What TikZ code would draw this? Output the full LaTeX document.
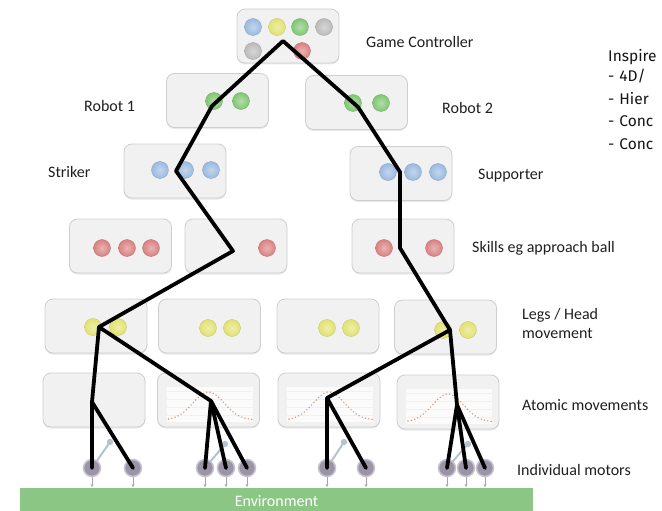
\documentclass[tikz,border=0pt]{standalone}
\usepackage{fontspec}
\setmainfont{Carlito}
\newfontfamily\notefont{Fira Sans}
\usetikzlibrary{arrows.meta,shadows}

\definecolor{boxfill}{HTML}{F1F1F1}
\definecolor{boxline}{HTML}{CECECE}
\definecolor{ballblue}{HTML}{9ABAE0}
\definecolor{ballyellow}{HTML}{E2E272}
\definecolor{ballgreen}{HTML}{80C673}
\definecolor{ballgrey}{HTML}{BBBBBB}
\definecolor{ballred}{HTML}{DA8080}
\definecolor{motor}{HTML}{9A94A6}
\definecolor{envgreen}{HTML}{8CC684}
\definecolor{curvedot}{HTML}{D49A7C}
\definecolor{ghost}{HTML}{B4C2D4}

\begin{document}
\begin{tikzpicture}[x=1pt,y=-1pt,
  level/.style={draw=boxline, line width=0.8pt, fill=boxfill, rounded corners=8pt,
    minimum width=102pt, minimum height=54pt, inner sep=0pt,
    drop shadow={shadow xshift=0pt, shadow yshift=-1.5pt, opacity=0.18}},
  ball/.style={circle, inner sep=0pt, minimum size=17pt, draw=#1!85!black, line width=0.3pt,
    inner color=#1!60!white, outer color=#1},
  motornode/.style={circle, inner sep=0pt, minimum size=17pt, fill=motor, draw=motor!55!white, line width=1.5pt},
  wire/.style={line width=3.8pt, black, line cap=round, line join=round},
  ghostline/.style={ghost, line width=2pt, line cap=round},
  outarrow/.style={gray!70, line width=0.6pt, -{Stealth[length=3pt,width=3pt]}},
  label/.style={font=\fontsize{16}{19}\selectfont, anchor=west, inner sep=0pt, text=black!88},
  note/.style={font=\notefont\fontsize{15.5}{18}\selectfont, anchor=west, inner sep=0pt, text=black!92},
  dotcurve/.style={curvedot, line width=1.6pt, dash pattern=on 0pt off 3.4pt, line cap=round}
]
\useasboundingbox (0,0) rectangle (662,511);
\clip (0,0) rectangle (662,511);

% ---- level boxes ----
\node[level] (gc) at (288,36) {};
\node[level] (r1) at (217.5,100.5) {};
\node[level] (r2) at (356.5,102.5) {};
\node[level] (st) at (175,171) {};
\node[level] (su) at (401,173.5) {};
\node[level] (ska) at (120.5,246) {};
\node[level] (skb) at (236,246) {};
\node[level] (skc) at (403,246) {};
\node[level] (lg1) at (96,326) {};
\node[level] (lg2) at (209.5,326) {};
\node[level] (lg3) at (328,326) {};
\node[level] (lg4) at (445.5,327) {};
\node[level] (at1) at (94,400) {};
\node[level] (at2) at (208.5,400) {};
\node[level] (at3) at (329,400) {};
\node[level] (at4) at (448,402) {};

% ---- motion profiles inside the atomic movement boxes ----
\foreach \b in {at2,at3,at4}{
  \begin{scope}[shift={(\b.center)}]
    \fill[white, opacity=0.75] (-42,-13) rectangle (44,22);
    \foreach \h in {-9,-1,7,15}
      \draw[gray!12, line width=0.6pt] (-42,\h) -- (44,\h);
    \draw[dotcurve] plot[domain=-40:44, samples=36] ({\x}, {20-28*exp(-(\x/22)*(\x/22))});
  \end{scope}
}

% ---- coloured state balls ----
\node[ball=ballblue]   (gc1) at (253,27) {};
\node[ball=ballyellow] (gc2) at (277,27) {};
\node[ball=ballgreen]  (gc3) at (300,27) {};
\node[ball=ballgrey]   (gc4) at (324,27) {};
\node[ball=ballgrey]   (gc5) at (253,51) {};
\node[ball=ballred]    (gc6) at (302,51) {};

\node[ball=ballgreen] (r1a) at (214,101) {};
\node[ball=ballgreen] (r1b) at (241,101) {};
\node[ball=ballgreen] (r2a) at (353,103) {};
\node[ball=ballgreen] (r2b) at (381,103) {};

\node[ball=ballblue] (st1) at (160,170) {};
\node[ball=ballblue] (st2) at (185,170) {};
\node[ball=ballblue] (st3) at (211,170) {};
\node[ball=ballblue] (su1) at (388,172) {};
\node[ball=ballblue] (su2) at (413,172) {};
\node[ball=ballblue] (su3) at (438,172) {};

\node[ball=ballred] (ska1) at (102,248) {};
\node[ball=ballred] (ska2) at (127,248) {};
\node[ball=ballred] (ska3) at (151,248) {};
\node[ball=ballred] (skb1) at (267,248) {};
\node[ball=ballred] (skc1) at (384,248) {};
\node[ball=ballred] (skc2) at (434,248) {};

\node[ball=ballyellow] (lg1a) at (93,327) {};
\node[ball=ballyellow] (lg1b) at (118,327) {};
\node[ball=ballyellow] (lg2a) at (208,328) {};
\node[ball=ballyellow] (lg2b) at (232,328) {};
\node[ball=ballyellow] (lg3a) at (327,328) {};
\node[ball=ballyellow] (lg3b) at (351,328) {};
\node[ball=ballyellow] (lg4a) at (443,330) {};
\node[ball=ballyellow] (lg4b) at (468,330) {};

% ---- environment ----
\node[fill=envgreen, minimum width=513pt, minimum height=26pt, inner sep=0pt,
      text=white, font=\fontsize{16}{19}\selectfont] (env) at (276.5,501) {Environment};

% ---- individual motors ----
\foreach \n/\mx in {m1/92,m2/133,m3/205,m4/226,m5/247,m6/327,m7/366,m8/447,m9/466,m10/485}{
  \node[motornode] (\n) at (\mx,468) {};
  \coordinate (\n out) at (\mx,487);
  \draw[outarrow] (\n.south) -- (\n out);
}

% faint secondary links between motors
\coordinate (g1) at (110,442);
\coordinate (g2) at (225,444);
\coordinate (g3) at (344,442);
\coordinate (g4) at (468,444);
\draw[ghostline] (m1) -- (g1);
\draw[ghostline] (m3) -- (g2);
\draw[ghostline] (m6) -- (g3);
\draw[ghostline] (m8) -- (g4);
\foreach \g in {g1,g2,g3,g4} \fill[ghost] (\g) circle (3.2pt);

% ---- activation path junctions ----
\coordinate (j0)   at (283,41);
\coordinate (jr1)  at (212,106);
\coordinate (jr2)  at (358,107);
\coordinate (jst)  at (176,171);
\coordinate (jsu)  at (400,172);
\coordinate (jskb) at (233,251);
\coordinate (jskc) at (400,248);
\coordinate (jl1)  at (99,327);
\coordinate (jl4)  at (450,330);
\coordinate (ja1)  at (92,402);
\coordinate (ja2)  at (211,401);
\coordinate (ja3)  at (327,398);
\coordinate (ja4)  at (457,405);

\draw[wire] (jr1) -- (j0) -- (jr2);
\draw[wire] (jr1) -- (jst) -- (jskb) -- (jl1);
\draw[wire] (jr2) -- (jsu) -- (jskc) -- (jl4);
\draw[wire] (ja1) -- (jl1) -- (ja2);
\draw[wire] (ja3) -- (jl4) -- (ja4);
\draw[wire] (m1.center) -- (ja1) -- (m2.center);
\draw[wire] (m3.center) -- (ja2) -- (m4.center);
\draw[wire] (ja2) -- (m5.center);
\draw[wire] (m6.center) -- (ja3) -- (m7.center);
\draw[wire] (m8.center) -- (ja4) -- (m9.center);
\draw[wire] (ja4) -- (m10.center);

% ---- level labels ----
\node[label] (lgc)  at (366,42)  {Game Controller};
\node[label] (lr1)  at (84,106)  {Robot 1};
\node[label] (lr2)  at (442,108) {Robot 2};
\node[label] (lst)  at (48,172)  {Striker};
\node[label] (lsu)  at (478,176) {Supporter};
\node[label] (lsk)  at (472,248) {Skills eg approach ball};
\node[label, align=left] (llg) at (522,324) {Legs / Head\\movement};
\node[label] (lat)  at (522,405) {Atomic movements};
\node[label] (lmo)  at (517,470) {Individual motors};

% ---- side notes ----
\node[note] (n0) at (608,57)  {Inspire};
\node[note] (n1) at (608,76)  {-\hspace{5pt}4D/};
\node[note] (n2) at (608,99)  {-\hspace{5pt}Hier};
\node[note] (n3) at (608,121) {-\hspace{5pt}Conc};
\node[note] (n4) at (608,144) {-\hspace{5pt}Conc};
\end{tikzpicture}
\end{document}
